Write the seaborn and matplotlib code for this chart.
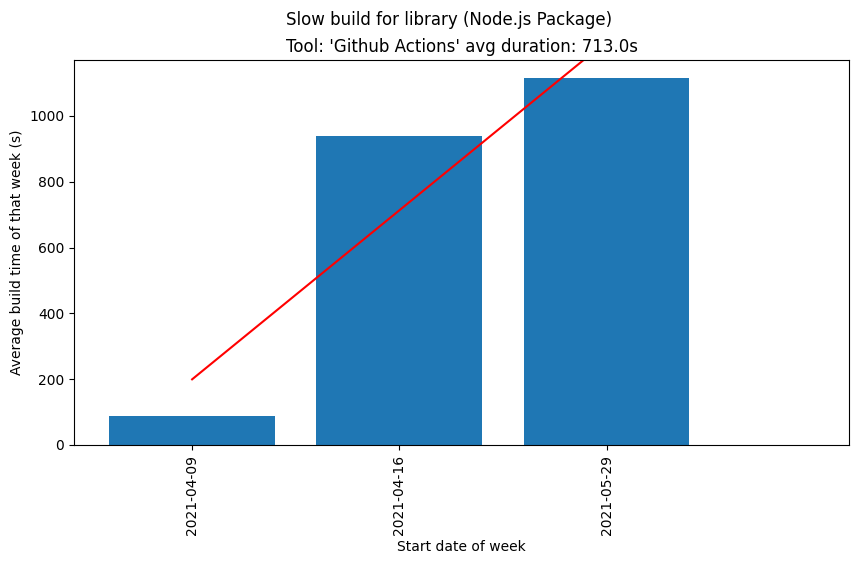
import numpy as np
import matplotlib
matplotlib.use("Agg")
import matplotlib.pyplot as plt
import seaborn as sns

weeks = ["2021-04-09", "2021-04-16", "2021-05-29"]
durations = [87, 938, 1114]
tool = "Github Actions"
project = "library (Node.js Package)"

avg = np.mean(durations)
x = np.arange(len(weeks))
slope, intercept = np.polyfit(x, durations, 1)
trend_x = np.arange(len(weeks) + 1)

fig = plt.figure(figsize=(8.59, 5.64), dpi=100)
ax = fig.add_axes([74 / 859, 1 - 445 / 564, 775 / 859, 385 / 564])
sns.barplot(x=weeks, y=durations, color="#1f77b4", saturation=1, width=0.8, ax=ax)
ax.plot(trend_x, slope * trend_x + intercept, color="red")

ax.set_xlim(-0.4 - 0.05 * 3.4, 3 + 0.05 * 3.4)
ax.set_ylim(0, max(durations) * 1.05)
ax.tick_params(axis="x", labelrotation=90)
ax.set_xlabel("Start date of week")
ax.set_ylabel("Average build time of that week (s)")
ax.set_title(f"Tool: '{tool}' avg duration: {avg:.1f}s", fontsize=12, pad=6)
fig.suptitle(f"Slow build for {project}", fontsize=12, x=449 / 859, y=0.98)

fig.savefig("out.png", dpi=100)
